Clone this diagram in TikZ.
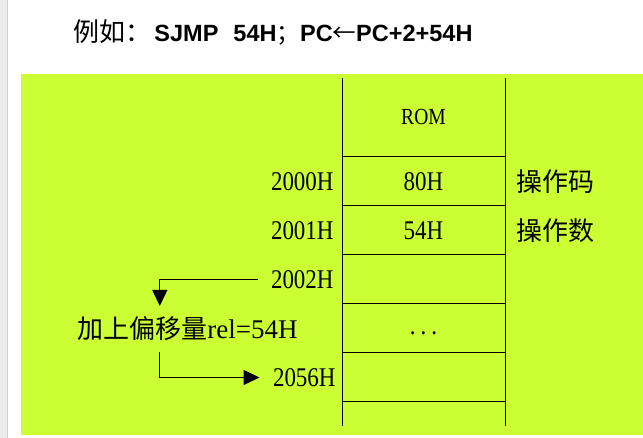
\documentclass[tikz,border=0pt]{standalone}
\usepackage{fontspec}
\setmainfont{Liberation Serif}
\newfontfamily\cjk{Noto Sans CJK SC}
\newfontfamily\arialb{Liberation Sans}
\newfontfamily\song[FakeStretch=0.85]{Liberation Serif}
\usetikzlibrary{calc}
\usetikzlibrary{positioning}
\usetikzlibrary{arrows.meta}

\definecolor{romgreen}{HTML}{CCFF33}

\begin{document}
\begin{tikzpicture}[x=1pt,y=-1pt,line width=1pt,
  cell/.style={minimum width=163pt,minimum height=49pt,inner sep=0pt,outer sep=0pt,font=\song\fontsize{27}{27}\selectfont},
  addr/.style={inner sep=0pt,font=\song\fontsize{27}{27}\selectfont},
  note/.style={inner sep=0pt,font=\cjk\fontsize{26}{26}\selectfont},
  jump/.style={line width=1.2pt,-{Triangle[length=16pt,width=15pt]}}]

\useasboundingbox (0,0) rectangle (643,438);
\fill[white] (0,0) rectangle (643,438);
\fill[black!8] (0,0) rectangle (7,438);
\draw[black!18] (7,0) -- (7,438);
\fill[romgreen] (21,74) rectangle (643,435);

\node[anchor=west,inner sep=0pt,font=\fontsize{23.5}{24}\selectfont] (title) at (73,32) {{\cjk\fontsize{26}{26}\selectfont 例如：}\hspace{3pt}{\arialb\bfseries SJMP\hspace{15pt}54H}{\cjk ；}{\arialb\bfseries PC}{\cjk ←}{\arialb\bfseries PC+2+54H}};

\node[cell,minimum height=79pt,font=\song\fontsize{23}{23}\selectfont] (rom) at (423.5,117.5) {ROM};
\node[cell,below=0pt of rom] (c1) {80H};
\node[cell,below=0pt of c1] (c2) {54H};
\node[cell,below=0pt of c2] (c3) {};
\node[cell,below=0pt of c3] (c4) {\vphantom{x}.\hspace{5pt}.\hspace{5pt}.};
\node[cell,below=0pt of c4] (c5) {};
\node[cell,below=0pt of c5,minimum height=24pt] (c6) {};

\draw (rom.north west) -- (c6.south west);
\draw (rom.north east) -- (c6.south east);
\draw (c1.north west) -- (c1.north east);
\draw (c2.north west) -- (c2.north east);
\draw (c3.north west) -- (c3.north east);
\draw (c4.north west) -- (c4.north east);
\draw (c5.north west) -- (c5.north east);
\draw (c6.north west) -- (c6.north east);

\node[addr,left=8pt of c1] (a2000) {2000H};
\node[addr,left=8pt of c2] (a2001) {2001H};
\node[addr,left=8pt of c3] (a2002) {2002H};
\node[addr,left=6pt of c5] (a2056) {2056H};

\node[note,right=11pt of c1] (opcode) {操作码};
\node[note,right=11pt of c2] (operand) {操作数};

\node[note,left=44pt of c4] (rel) {加上偏移量{\rmfamily\fontsize{27}{27}\selectfont rel=54H}};

\draw[jump] ([xshift=-13pt]a2002.west) -| ([xshift=83pt,yshift=10pt]rel.north west);
\draw[jump] ([xshift=83pt,yshift=-11pt]rel.south west) |- ([xshift=-13pt]a2056.west);

\end{tikzpicture}
\end{document}
